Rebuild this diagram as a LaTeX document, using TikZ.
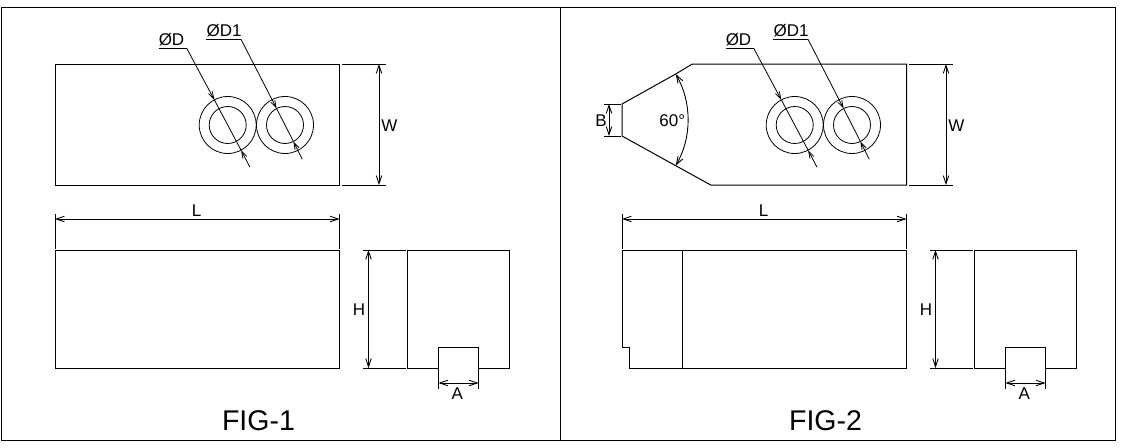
\documentclass[tikz,border=0pt]{standalone}
\usepackage{fontspec}
\setmainfont{Liberation Sans}
\usetikzlibrary{arrows.meta,positioning,calc}

\tikzset{
  part/.style={line width=1pt,black,line cap=rect},
  thinline/.style={line width=0.8pt,black},
  dimline/.style={line width=0.9pt,{Straight Barb[length=8pt,width=5.5pt]}-{Straight Barb[length=8pt,width=5.5pt]}},
  leaderline/.style={line width=0.8pt,-{Straight Barb[length=7pt,width=4.5pt]}},
  hole/.style={circle,draw,line width=0.8pt,inner sep=0pt,outer sep=0pt},
  dimtext/.style={font=\fontsize{17}{17}\selectfont,inner sep=0pt},
  figtext/.style={font=\fontsize{28.5}{29}\selectfont,inner sep=0pt},
}

\begin{document}
\begin{tikzpicture}[x=1pt,y=-1pt]
  \useasboundingbox (0,0) rectangle (1121,447);

  % outer frame and divider
  \coordinate (divtop) at (560,7);
  \coordinate (divbot) at (560,440);
  \draw[part] (1,7) rectangle (1115,440);
  \draw[part] (divtop) -- (divbot);

  % parts that both figures share
  \foreach \fig/\dx in {1/0,2/567} {
    \begin{scope}[xshift=\dx pt]
      % holes
      \node[hole,minimum size=57pt] (holeA\fig) at (227.7,125) {};
      \node[hole,minimum size=37pt] (boreA\fig) at (227.7,125) {};
      \node[hole,minimum size=57pt] (holeB\fig) at (285,125) {};
      \node[hole,minimum size=37pt] (boreB\fig) at (285,125) {};

      % hole leaders
      \coordinate (kneeA\fig) at (186.7,48.3);
      \coordinate (kneeB\fig) at (241,39.3);
      \coordinate (endA\fig) at (250,167.3);
      \coordinate (endB\fig) at (302.3,159.3);
      \node[dimtext,above=2pt] (txtD\fig) at (171.5,48.3) {ØD};
      \node[dimtext,above=2pt] (txtDa\fig) at (224,39.3) {ØD1};
      \draw[thinline] (txtD\fig.south west) ++(0,2) -- (kneeA\fig);
      \draw[thinline] (txtDa\fig.south west) ++(0,2) -- (kneeB\fig);
      \draw[leaderline] (kneeA\fig) -- (holeA\fig.118);
      \draw[thinline] (holeA\fig.118) -- (holeA\fig.-62);
      \draw[leaderline] (endA\fig) -- (holeA\fig.-62);
      \draw[leaderline] (kneeB\fig) -- (boreB\fig.117);
      \draw[thinline] (boreB\fig.117) -- (boreB\fig.-63);
      \draw[leaderline] (endB\fig) -- (boreB\fig.-63);

      % width
      \draw[part] (342,64) -- (385,64);
      \draw[part] (342,185) -- (385,185);
      \coordinate (wtop\fig) at (379,64);
      \coordinate (wbot\fig) at (379,185);
      \draw[dimline] (wtop\fig) -- (wbot\fig);
      \node[dimtext] (txtW\fig) at (389.5,126) {W};

      % length
      \draw[part] (55,214) -- (55,248);
      \draw[part] (339.5,214) -- (339.5,248);
      \coordinate (lleft\fig) at (55,219);
      \coordinate (lright\fig) at (339.5,219);
      \draw[dimline] (lleft\fig) -- (lright\fig);
      \node[dimtext] (txtL\fig) at (196.5,211) {L};

      % side view with notch
      \draw[part] (438.5,368) -- (407.5,368) -- (407.5,250) -- (509.5,250)
        -- (509.5,368) -- (478.5,368);
      \draw[part] (438.5,368) -- (438.5,347.5) -- (478.5,347.5) -- (478.5,368);

      % height
      \draw[part] (363,250) -- (405.5,250);
      \draw[part] (363,368) -- (405.5,368);
      \coordinate (htop\fig) at (368.5,250);
      \coordinate (hbot\fig) at (368.5,368);
      \draw[dimline] (htop\fig) -- (hbot\fig);
      \node[dimtext] (txtH\fig) at (359,310) {H};

      % notch width
      \draw[part] (438.5,368) -- (438.5,388);
      \draw[part] (478.5,368) -- (478.5,388);
      \coordinate (aleft\fig) at (438.5,383);
      \coordinate (aright\fig) at (478.5,383);
      \draw[dimline] (aleft\fig) -- (aright\fig);
      \node[dimtext] (txtA\fig) at (457.3,393.5) {A};

      \node[figtext] (title\fig) at (258.5,421) {FIG-\fig};
    \end{scope}
  }

  % FIG-1 outlines
  \draw[part] (55,64) rectangle (339.5,185);
  \draw[part] (55,250) rectangle (339.5,368);

  % FIG-2 top view with taper
  \coordinate (tapa) at (622,104);
  \coordinate (tapb) at (622,136);
  \coordinate (tapc) at (675.7,74);
  \coordinate (tapd) at (675.7,165.7);
  \draw[part] (tapa) -- (tapc) -- (692.3,64) -- (906.5,64) -- (906.5,185)
    -- (710.7,185) -- (tapd) -- (tapb) -- cycle;
  \draw[dimline] (tapc) to[bend left=30,looseness=0.91] (tapd);
  \node[dimtext] (txtAng) at (672.3,120.5) {60°};

  % taper end
  \draw[part] (604.5,104) -- (620,104);
  \draw[part] (604.5,136) -- (620,136);
  \coordinate (bup) at (609,104);
  \coordinate (bdn) at (609,136);
  \draw[dimline] (bup) -- (bdn);
  \node[dimtext] (txtB) at (601,120.5) {B};

  % FIG-2 front view
  \draw[part] (622,250) -- (906.5,250) -- (906.5,368) -- (629.3,368) -- (629.3,347.5)
    -- (622,347.5) -- cycle;
  \draw[part] (682.3,250) -- (682.3,368);
\end{tikzpicture}
\end{document}
